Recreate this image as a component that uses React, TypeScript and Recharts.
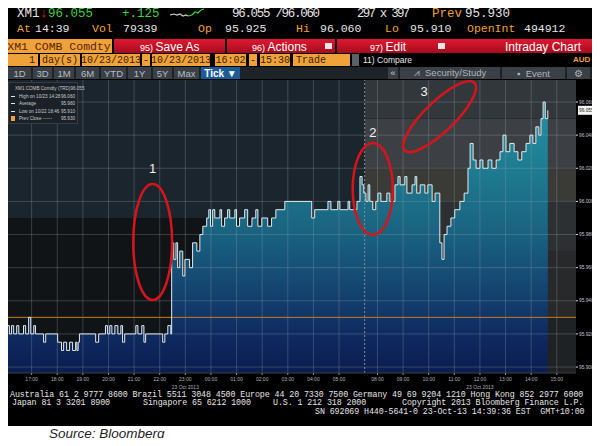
import React from "react";
import { ComposedChart, Area, Line, XAxis, YAxis, ReferenceArea, ReferenceLine } from "recharts";

// XM1 tick prices, 22/23 Oct 2013 (AEST)
const TIMES = [
  "16:02", "16:08", "16:13", "16:18", "16:25", "16:30", "16:41", "16:46", "16:53", "16:58",
  "17:05", "17:09", "17:28", "17:33", "18:01", "18:10", "18:15", "18:22", "18:29", "18:36",
  "18:43", "18:46", "18:49", "18:52", "19:30", "19:37", "19:53", "19:58", "20:03", "20:08",
  "20:15", "20:22", "20:29", "20:33", "20:38", "21:04", "21:09", "21:18", "21:23", "21:27",
  "22:07", "22:12", "22:19", "22:26", "22:28", "22:33", "22:38", "22:42", "22:47", "22:54",
  "22:59", "23:10", "23:17", "23:27", "23:34", "23:41", "23:50", "23:55", "23:59", "00:04",
  "00:09", "00:21", "00:25", "00:32", "00:39", "00:44", "00:56", "01:00", "01:07", "01:19",
  "01:26", "01:36", "01:45", "01:50", "01:59", "02:13", "02:22", "02:32", "02:53", "03:56",
  "04:03", "04:34", "04:41", "04:57", "05:02", "05:21", "05:25", "05:42", "05:49", "05:54",
  "05:58", "07:33", "07:38", "07:42", "07:49", "07:56", "08:01", "08:08", "08:22", "08:29",
  "08:41", "08:48", "08:53", "09:04", "09:09", "09:21", "09:28", "09:32", "09:40", "09:51",
  "09:58", "10:08", "10:15", "10:26", "10:31", "10:36", "10:43", "10:52", "11:01", "11:13",
  "11:23", "11:32", "11:37", "11:44", "11:51", "12:00", "12:07", "12:19", "12:28", "12:38",
  "12:47", "12:54", "13:01", "13:10", "13:20", "13:29", "13:38", "13:48", "13:57", "14:04",
  "14:11", "14:18", "14:23", "14:28", "14:33", "14:39",
];
const PRICES = [
  95.925, 95.92, 95.925, 95.92, 95.925, 95.92, 95.925, 95.92, 95.93, 95.92,
  95.925, 95.92, 95.915, 95.92, 95.915, 95.91, 95.915, 95.91, 95.915, 95.91,
  95.915, 95.91, 95.915, 95.92, 95.915, 95.92, 95.925, 95.92, 95.925, 95.92,
  95.925, 95.92, 95.925, 95.915, 95.92, 95.925, 95.92, 95.925, 95.915, 95.92,
  95.915, 95.92, 95.925, 95.92, 95.975, 95.965, 95.975, 95.96, 95.97, 95.955,
  95.965, 95.96, 95.975, 95.97, 95.98, 95.985, 95.99, 95.995, 95.985, 95.995,
  95.99, 95.995, 95.985, 95.99, 95.995, 95.99, 95.995, 95.985, 95.99, 95.995,
  95.985, 95.99, 95.995, 95.985, 95.99, 95.985, 95.99, 95.995, 96.0, 95.99,
  95.995, 96.0, 95.995, 96.0, 95.995, 96.0, 95.995, 96.0, 96.015, 96.01,
  96.005, 96.0, 96.01, 96.0, 95.995, 96.0, 96.005, 96.0, 96.005, 96.0,
  96.01, 96.015, 96.01, 96.015, 96.005, 96.01, 96.015, 96.005, 96.01, 96.005,
  96.01, 96.0, 96.005, 95.975, 95.965, 95.98, 95.985, 95.99, 95.995, 96.0,
  96.005, 96.02, 96.035, 96.025, 96.02, 96.025, 96.02, 96.025, 96.02, 96.025,
  96.03, 96.04, 96.03, 96.035, 96.03, 96.025, 96.03, 96.035, 96.04, 96.035,
  96.045, 96.04, 96.05, 96.06, 96.05, 96.055,
];

const X_TICKS = [
  "17:00", "18:00", "19:00", "20:00", "21:00", "22:00", "23:00", "00:00", "01:00", "02:00",
  "03:00", "04:00", "05:00", "08:00", "09:00", "10:00", "11:00", "12:00", "13:00", "14:00", "15:00",
];
const DATE_TICKS = ["23:00", "12:00"];
const DATE_LABEL = "23 Oct 2013";
const Y_TICKS = [95.9, 95.92, 95.94, 95.96, 95.98, 96.0, 96.02, 96.04, 96.06];
const LAST = 96.055;
const PREV_CLOSE = 95.93;
const LEGEND_ROWS = [
  ["XM1 COMB Comdty (TRD)", "96.055"],
  ["High on 10/23 14:28", "96.060"],
  ["Average", "95.980"],
  ["Low on 10/22 18:46", "95.910"],
  ["Prev Close ------", "95.930"],
];

// night session ends 06:00, day session starts 07:30: the break is collapsed on the axis
const GAP = 1.5;
function pos(t: string) {
  const [h, m] = t.split(":").map(Number);
  const hrs = ((h * 60 + m - 960 + 1440) % 1440) / 60;
  return hrs > 14 ? hrs - GAP : hrs;
}

const data = TIMES.map((t, i) => ({ x: pos(t), price: PRICES[i] }));
const tickLabel = new Map(X_TICKS.map((t) => [pos(t), t]));
const Y_MIN = 95.8964;
const Y_MAX = 96.0733;

const C = {
  orange: "#f0a23a",
  white: "#e6e6e6",
  green: "#3fd13f",
  grid: "rgba(150,162,172,0.30)",
  line: "#e3ebee",
};
const MONO = "'Liberation Mono', 'DejaVu Sans Mono', monospace";
const SANS = "'Liberation Sans', Arial, sans-serif";

// background bands: [from, to, priceLo, priceHi, colour]
const BANDS: [string, string, number, number, string][] = [
  ["16:00", "06:00", 95.99, Y_MAX, "#1b252e"],
  ["16:00", "06:00", Y_MIN, 95.99, "#101417"],
  ["06:00", "15:45", 96.05, Y_MAX, "#32373c"],
  ["06:00", "15:45", 96.02, 96.05, "#3c4044"],
  ["06:00", "15:45", 96.0, 96.02, "#3a3b37"],
  ["06:00", "15:45", 95.97, 96.0, "#2d3033"],
  ["06:00", "15:45", 95.93, 95.97, "#28292a"],
  ["06:00", "15:45", Y_MIN, 95.93, "#1f2225"],
];

// red circles drawn on the screenshot
const RINGS = [
  { n: "1", from: "20:58", to: "22:29", lo: 95.9405, hi: 96.0105, tilt: false },
  { n: "2", from: "05:32", to: "08:36", lo: 95.9797, hi: 96.0353, tilt: false },
  { n: "3", from: "09:00", to: "11:51", lo: 96.0298, hi: 96.0725, tilt: true },
];

function Ring(props: any) {
  const { x, y, width: w, height: h, n, tilt } = props;
  const cx = x + w / 2;
  const cy = y + h / 2;
  if (tilt) {
    const ry = 15;
    const rx = Math.sqrt((w / 2) ** 2 + (h / 2) ** 2 - ry * ry);
    const ang = (-Math.atan2(h, w) * 180) / Math.PI;
    return (
      <g>
        <ellipse cx={cx} cy={cy} rx={rx} ry={ry} transform={`rotate(${ang} ${cx} ${cy})`} fill="none" stroke="#d8141b" strokeWidth={2.5} />
        <text x={x + 21} y={y + 15} textAnchor="middle" fontSize={13} fill="#f2f2f2" fontFamily={SANS}>{n}</text>
      </g>
    );
  }
  return (
    <g>
      <ellipse cx={cx} cy={cy} rx={w / 2} ry={h / 2} fill="none" stroke="#d8141b" strokeWidth={2.5} />
      <text x={cx} y={y - (n === "1" ? 11 : 6)} textAnchor="middle" fontSize={13} fill="#f2f2f2" fontFamily={SANS}>{n}</text>
    </g>
  );
}

function TimeTick({ x, y, payload }: any) {
  const label = tickLabel.get(payload.value) ?? "";
  return (
    <g>
      <text x={x} y={y + 4} textAnchor="middle" fontSize={5} fill="#aeb2b6" fontFamily={SANS}>{label}</text>
      {DATE_TICKS.includes(label) && (
        <text x={x} y={y + 11.5} textAnchor="middle" fontSize={5} fill="#aeb2b6" fontFamily={SANS}>{DATE_LABEL}</text>
      )}
    </g>
  );
}

function LastLabel({ viewBox }: any) {
  const bx = viewBox.x + viewBox.width + 2;
  const by = viewBox.y;
  return (
    <g>
      <rect x={bx} y={by - 4.5} width={16} height={9} fill="#f4f4f4" />
      <text x={bx + 1} y={by + 2} fontSize={4.8} fill="#222" fontFamily={SANS}>{LAST.toFixed(3)}</text>
    </g>
  );
}

function T({ x, y, c, s = 12, f = MONO, w, ls, children }: any) {
  return (
    <div style={{ position: "absolute", left: x, top: y, color: c, fontSize: s, fontFamily: f, lineHeight: 1, whiteSpace: "pre", fontWeight: w, letterSpacing: ls }}>
      {children}
    </div>
  );
}

function Box({ x, y, w, h, bg, children, align = "center", c = "#3b1d00", s = 10, f = MONO }: any) {
  return (
    <div
      style={{
        position: "absolute", left: x, top: y, width: w, height: h, background: bg, color: c,
        fontSize: s, fontFamily: f, display: "flex", alignItems: "center",
        justifyContent: align === "right" ? "flex-end" : align === "left" ? "flex-start" : "center",
        paddingRight: align === "right" ? 3 : 0, paddingLeft: align === "left" ? 3 : 0,
        boxSizing: "border-box", whiteSpace: "pre",
      }}
    >
      {children}
    </div>
  );
}

const RANGE_BTNS: [string, number, number][] = [
  ["1D", 8, 23], ["3D", 33, 19], ["1M", 54, 20], ["6M", 76, 23], ["YTD", 101, 25],
  ["1Y", 128, 23], ["5Y", 153, 19], ["Max", 174, 25],
];

export default function App() {
  return (
    <div style={{ position: "relative", width: 600, height: 446, margin: -8, background: "#fff", overflow: "hidden" }}>
      <div style={{ position: "absolute", left: 3, top: 1, width: 595, height: 425, background: "#000" }} />

      {/* quote line */}
      <T x={17} y={8} c={C.white} s={12.5}>XM1</T>
      <T x={40} y={8} c="#e3241b" s={12.5}>↓</T>
      <T x={48} y={8} c={C.green} s={12.5}>96.055</T>
      <T x={122} y={8} c={C.green} s={12.5}>+.125</T>
      <svg style={{ position: "absolute", left: 168, top: 6 }} width={40} height={14}>
        <path d="M2 9 L6 8 L9 9 L12 8 L15 10 L18 9 L20 10" stroke="#cfcfcf" fill="none" strokeWidth={1.2} />
        <path d="M20 10 L24 9 L27 6 L30 7 L33 4 L36 3" stroke={C.green} fill="none" strokeWidth={1.2} />
      </svg>
      <T x={232} y={8} c={C.white} s={12.5} ls={-1.3}>96.055 /96.060</T>
      <T x={357} y={8} c={C.white} s={12.5} ls={-1.8}>297 x 397</T>
      <T x={432} y={8} c={C.orange} s={12.5}>Prev</T>
      <T x={465} y={8} c={C.white} s={12.5}>95.930</T>

      <T x={17} y={23} c={C.orange} s={11.5}>At</T>
      <T x={35} y={23} c={C.white} s={11.5}>14:39</T>
      <T x={92} y={23} c={C.orange} s={11.5}>Vol</T>
      <T x={123} y={23} c={C.white} s={11.5}>79339</T>
      <T x={198} y={23} c={C.orange} s={11.5}>Op</T>
      <T x={225} y={23} c={C.white} s={11.5}>95.925</T>
      <T x={296} y={23} c={C.orange} s={11.5}>Hi</T>
      <T x={320} y={23} c={C.white} s={11.5}>96.060</T>
      <T x={385} y={23} c={C.orange} s={11.5}>Lo</T>
      <T x={410} y={23} c={C.white} s={11.5}>95.910</T>
      <T x={467} y={23} c={C.orange} s={11.5}>OpenInt</T>
      <T x={524} y={23} c={C.white} s={11.5}>494912</T>

      {/* toolbar */}
      <Box x={6} y={39} w={106} h={14} bg={C.orange} s={11.5} c="#5a2300">XM1 COMB Comdty</Box>
      <div style={{ position: "absolute", left: 114, top: 39, width: 478, height: 14, background: "linear-gradient(#e0182f, #a50c1e)" }} />
      <T x={140} y={40.5} c="#fff" s={12} f={SANS}><span style={{ fontSize: 9 }}>95) </span>Save As</T>
      <T x={252} y={40.5} c="#fff" s={12} f={SANS}><span style={{ fontSize: 9 }}>96) </span>Actions</T>
      <T x={370} y={40.5} c="#fff" s={12} f={SANS}><span style={{ fontSize: 9 }}>97) </span>Edit</T>
      <T x={505} y={40.5} c="#fff" s={12} f={SANS}>Intraday Chart</T>
      <div style={{ position: "absolute", left: 225, top: 39, width: 2, height: 14, background: "#000" }} />
      <div style={{ position: "absolute", left: 335, top: 39, width: 2, height: 14, background: "#000" }} />
      <Box x={325} y={43} w={7} h={6} bg="#e8e8e8" />
      <Box x={438} y={43} w={7} h={6} bg="#e8e8e8" />

      <Box x={6} y={54} w={32} h={12} bg={C.orange} align="right">1</Box>
      <Box x={40} y={54} w={40} h={12} bg={C.orange}>day(s)</Box>
      <Box x={82} y={54} w={58} h={12} bg={C.orange}>10/23/2013</Box>
      <Box x={142} y={54} w={8} h={12} bg={C.orange}>-</Box>
      <Box x={152} y={54} w={58} h={12} bg={C.orange}>10/23/2013</Box>
      <Box x={215} y={54} w={31} h={12} bg={C.orange}>16:02</Box>
      <Box x={249} y={54} w={8} h={12} bg={C.orange}>-</Box>
      <Box x={260} y={54} w={30} h={12} bg={C.orange}>15:30</Box>
      <Box x={293} y={54} w={57} h={12} bg={C.orange} align="left">Trade</Box>
      <Box x={352} y={54} w={7} h={12} bg="#5b6167" />
      <T x={363} y={56} c="#e8e8e8" s={8.5} f={SANS}>11) Compare</T>
      <T x={573} y={56} c={C.orange} s={8} f={SANS} w={700}>AUD</T>

      <div style={{ position: "absolute", left: 6, top: 67, width: 586, height: 12, background: "#1e2327" }} />
      {RANGE_BTNS.map(([t, x, w]) => (
        <Box key={t} x={x} y={67} w={w} h={12} bg="#3a4046" c="#b7bcc1" s={9.5} f={SANS}>{t}</Box>
      ))}
      <Box x={201} y={67} w={39} h={12} bg="#1d5b98" c="#fff" s={10} f={SANS}><b>Tick ▼</b></Box>
      <Box x={388} y={67} w={10} h={12} bg="#3a4046" c="#c9cdd1" s={9} f={SANS}>«</Box>
      <Box x={400} y={67} w={100} h={12} bg="#3a4046" c="#aeb3b8" s={9.5} f={SANS}>⩘  Security/Study</Box>
      <Box x={502} y={67} w={63} h={12} bg="#3a4046" c="#aeb3b8" s={9.5} f={SANS}>▪  Event</Box>
      <Box x={567} y={67} w={23} h={12} bg="#3a4046" c="#aeb3b8" s={9.5} f={SANS}>⚙</Box>

      {/* chart */}
      <div style={{ position: "absolute", left: 0, top: 80 }}>
        <ComposedChart width={600} height={312} data={data} margin={{ top: 0, right: 0, bottom: 0, left: 6 }}>
          <defs>
            <linearGradient id="fillGrad" x1="0" y1="0" x2="0" y2="1">
              <stop offset="0%" stopColor="#2591a3" />
              <stop offset="25%" stopColor="#1e7b90" />
              <stop offset="47%" stopColor="#1a6481" />
              <stop offset="66%" stopColor="#154973" />
              <stop offset="84%" stopColor="#0f2d62" />
              <stop offset="100%" stopColor="#0b1c50" />
            </linearGradient>
          </defs>
          <XAxis
            dataKey="x"
            type="number"
            domain={[0, 22.25]}
            ticks={X_TICKS.map(pos)}
            tick={<TimeTick />}
            tickSize={2}
            tickLine={{ stroke: "#8a8e92" }}
            axisLine={{ stroke: "#3a3e42" }}
            height={19}
            interval={0}
          />
          <YAxis
            orientation="right"
            type="number"
            domain={[Y_MIN, Y_MAX]}
            ticks={Y_TICKS}
            tickFormatter={(v: number) => v.toFixed(3)}
            tick={{ fontSize: 4.8, fill: "#c3c7cb", fontFamily: SANS }}
            tickSize={2}
            tickMargin={1}
            tickLine={{ stroke: "#e0e0e0" }}
            axisLine={false}
            width={24}
          />
          {BANDS.map(([a, b, lo, hi, col], i) => (
            <ReferenceArea key={"bg" + i} x1={pos(a)} x2={Math.min(pos(b), 22.25)} y1={lo} y2={hi} fill={col} fillOpacity={1} stroke="none" zIndex={-60} />
          ))}
          <Area
            type="stepAfter"
            dataKey="price"
            stroke="none"
            fill="url(#fillGrad)"
            fillOpacity={1}
            baseValue={Y_MIN}
            isAnimationActive={false}
          />
          {Y_TICKS.map((v) => (
            <ReferenceLine key={"h" + v} y={v} stroke={C.grid} strokeWidth={1} zIndex={150} />
          ))}
          {X_TICKS.map((t) => (
            <ReferenceLine key={"v" + t} x={pos(t)} stroke={C.grid} strokeWidth={1} zIndex={150} />
          ))}
          <ReferenceLine x={pos("06:00")} stroke="#858b90" strokeDasharray="2 2" zIndex={160} />
          <ReferenceLine y={PREV_CLOSE} stroke="#c97a1f" strokeWidth={1} zIndex={160} />
          <Line
            type="stepAfter"
            dataKey="price"
            stroke={C.line}
            strokeWidth={1}
            dot={false}
            isAnimationActive={false}
          />
          <ReferenceLine y={LAST} stroke="none" label={<LastLabel />} />
          {RINGS.map((r) => (
            <ReferenceArea
              key={r.n}
              x1={pos(r.from)}
              x2={pos(r.to)}
              y1={r.lo}
              y2={r.hi}
              zIndex={2500}
              shape={(p: any) => <Ring {...p} n={r.n} tilt={r.tilt} />}
            />
          ))}
        </ComposedChart>
      </div>

      {/* legend box */}
      <div style={{ position: "absolute", left: 8, top: 82, width: 70, height: 42, background: "#1b2127", border: "1px solid #353c43", boxSizing: "border-box", padding: "2px 2px" }}>
        {LEGEND_ROWS.map(([name, val], i) => (
          <div key={name} style={{ display: "flex", alignItems: "center", height: 7.5, fontSize: 4.6, fontFamily: SANS, color: "#c6cacd" }}>
            <div style={{ width: 4, height: i === 0 || i === 4 ? 5 : 1, background: i === 4 ? C.orange : "#e8e8e8", marginRight: 4 }} />
            <div style={{ flex: 1, whiteSpace: "nowrap" }}>{name}</div>
            <div>{val}</div>
          </div>
        ))}
      </div>

      {/* footer */}
      <T x={10} y={390.5} c={C.white} s={8.3} ls={-0.08}>Australia 61 2 9777 8600 Brazil 5511 3048 4500 Europe 44 20 7330 7500 Germany 49 69 9204 1210 Hong Kong 852 2977 6000</T>
      <T x={12} y={399} c={C.white} s={8.3} ls={-0.08}>Japan 81 3 3201 8900</T>
      <T x={143} y={399} c={C.white} s={8.3} ls={-0.08}>Singapore 65 6212 1000</T>
      <T x={273} y={399} c={C.white} s={8.3} ls={-0.08}>U.S. 1 212 318 2000</T>
      <T x={402} y={399} c={C.white} s={8.3} ls={-0.08}>Copyright 2013 Bloomberg Finance L.P.</T>
      <T x={315} y={407.5} c={C.white} s={8.3} ls={-0.08}>SN 692069 H440-5641-0 23-Oct-13 14:39:36 EST  GMT+10:00</T>

      <T x={49} y={427} c="#222" s={13.5} f={SANS}><i>Source: Bloomberg</i></T>
    </div>
  );
}
